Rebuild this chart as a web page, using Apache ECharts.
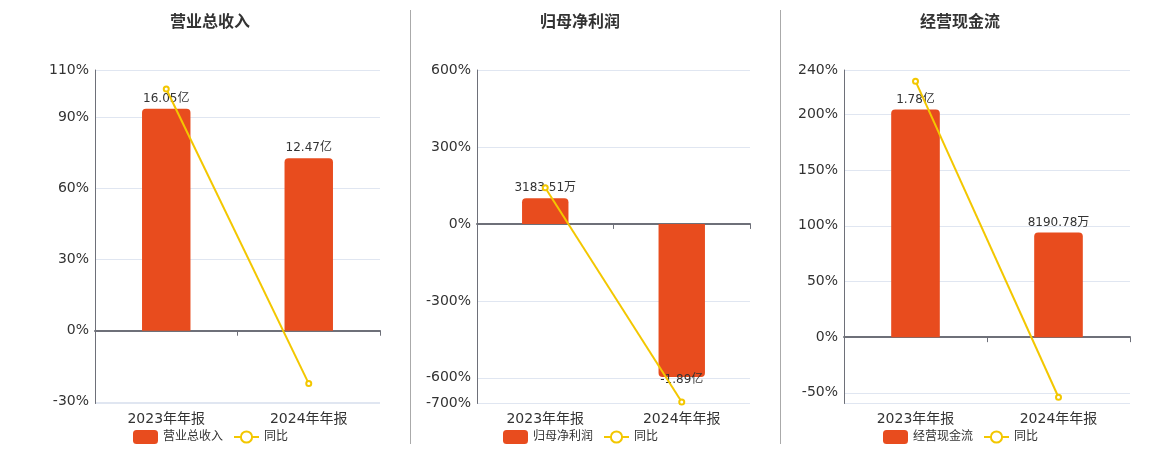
<!DOCTYPE html>
<html lang="zh-CN">
<head>
<meta charset="utf-8" />
<title>营业总收入 / 归母净利润 / 经营现金流</title>
<script src="https://cdn.jsdelivr.net/npm/echarts@6/dist/echarts.min.js"></script>
<style>
  * { margin: 0; padding: 0; }
  body { background: #fff; }
  #chart-container { width: 1160px; height: 450px; }
</style>
</head>
<body>
<div id="chart-container"></div>
<script>
// data (bar values in 万元, yoy in %)
var categories = ['2023年年报', '2024年年报'];
var titles = ['营业总收入', '归母净利润', '经营现金流'];
var barValues = [
  [160500, 124700],
  [3183.51, -18900],
  [17800, 8190.78]
];
var yoyValues = [
  [102.0, -22.3],
  [141, -694],
  [230, -54]
];
var yMin = [-30.7, -700, -59.6];
var yMax = [110, 600, 240];

// layout per panel
var gridLeft = [95, 477, 844];
var gridRight = [380, 750, 1130];
var titleCenter = [210, 580, 960];
var legendLeft = [128, 498, 878];
var showMin = [false, true, false];

var barColor = '#e84c1e';
var lineColor = '#f3c700';

function fmtMoney(v) {
  if (Math.abs(v) >= 10000) return (v / 10000).toFixed(2) + '亿';
  return v.toFixed(2) + '万';
}

var dom = document.getElementById('chart-container');
var myChart = echarts.init(dom, null, { renderer: 'canvas' });

var option = {
  animation: false,
  backgroundColor: '#fff',
  textStyle: { fontFamily: 'DejaVu Sans, Noto Sans CJK SC, sans-serif' },
  title: [],
  legend: [],
  grid: [],
  xAxis: [],
  yAxis: [],
  series: [],
  graphic: [
    { type: 'line', shape: { x1: 410.5, y1: 10, x2: 410.5, y2: 444 }, style: { stroke: '#aaa', lineWidth: 1 } },
    { type: 'line', shape: { x1: 780.5, y1: 10, x2: 780.5, y2: 444 }, style: { stroke: '#aaa', lineWidth: 1 } }
  ]
};

for (let i = 0; i < 3; i++) {
  // hidden axis for the bars, zero aligned with the % axis
  let r = 0;
  barValues[i].forEach(function (v) {
    r = Math.max(r, v >= 0 ? v / yMax[i] : v / yMin[i]);
  });
  let barMin = yMin[i] * r * 1.174;
  let barMax = yMax[i] * r * 1.174;

  option.title.push({
    text: titles[i],
    left: titleCenter[i],
    textAlign: 'center',
    top: 15,
    padding: 0,
    textStyle: { fontSize: 16, fontWeight: 'bold', color: '#333' }
  });
  option.legend.push({
    data: [titles[i], '同比'],
    left: legendLeft[i],
    top: 425,
    itemWidth: 25,
    itemHeight: 14,
    itemGap: 10,
    textStyle: { fontSize: 12, color: '#333' }
  });
  option.grid.push({
    left: gridLeft[i],
    width: gridRight[i] - gridLeft[i],
    top: 70,
    bottom: 46.5,
    outerBoundsMode: 'none'
  });
  // label axis at the bottom
  option.xAxis.push({
    type: 'category',
    gridIndex: i,
    data: categories,
    position: 'bottom',
    axisLine: { show: false, onZero: false },
    axisTick: { show: false },
    axisLabel: { fontSize: 14, color: '#333', margin: 9 }
  });
  // zero line with ticks
  option.xAxis.push({
    type: 'category',
    gridIndex: i,
    data: categories,
    position: 'top',
    axisLine: { show: true, onZero: true, lineStyle: { color: '#6e7079', width: 2 } },
    axisTick: { show: true, inside: true, length: 5, lineStyle: { color: '#6e7079' } },
    axisLabel: { show: false },
    splitLine: { show: false }
  });
  option.yAxis.push({
    type: 'value',
    gridIndex: i,
    min: yMin[i],
    max: yMax[i],
    position: 'left',
    axisLine: { show: true, onZero: false, lineStyle: { color: '#6e7079' } },
    axisTick: { show: false },
    axisLabel: {
      fontSize: 14,
      color: '#333',
      margin: 6,
      showMinLabel: showMin[i],
      formatter: function (v) { return v + '%'; }
    },
    splitLine: { show: true, lineStyle: { color: '#e0e6f1' } }
  });
  option.yAxis.push({
    type: 'value',
    gridIndex: i,
    min: barMin,
    max: barMax,
    position: 'right',
    show: false,
    splitLine: { show: false }
  });

  option.series.push({
    type: 'bar',
    name: titles[i],
    xAxisIndex: i * 2,
    yAxisIndex: i * 2 + 1,
    barWidth: '34%',
    itemStyle: { color: barColor },
    label: {
      show: true,
      fontSize: 12,
      color: '#333',
      formatter: function (p) { return fmtMoney(p.value); }
    },
    data: barValues[i].map(function (v) {
      return {
        value: v,
        itemStyle: { borderRadius: v >= 0 ? [4, 4, 0, 0] : [0, 0, 4, 4] },
        label: { position: v >= 0 ? 'top' : 'bottom', distance: v >= 0 ? 4 : -3 }
      };
    })
  });
  option.series.push({
    type: 'line',
    name: '同比',
    xAxisIndex: i * 2,
    yAxisIndex: i * 2,
    symbol: 'emptyCircle',
    symbolSize: 5,
    z: 5,
    lineStyle: { width: 2, color: lineColor },
    itemStyle: { color: lineColor },
    data: yoyValues[i]
  });
}

myChart.setOption(option);
window.addEventListener('resize', myChart.resize);
</script>
</body>
</html>
